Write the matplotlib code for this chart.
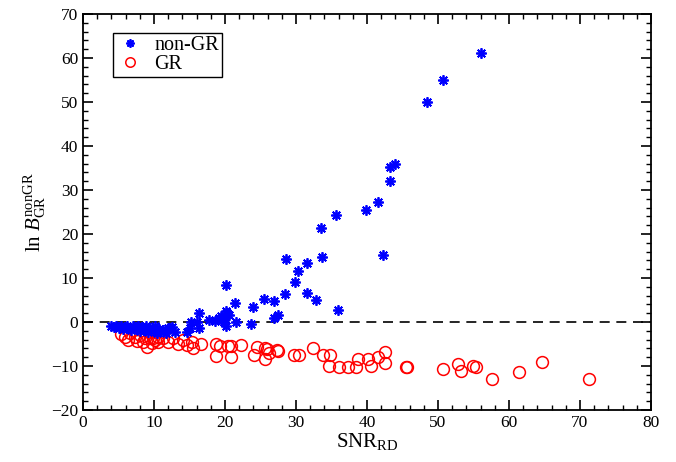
import matplotlib
matplotlib.use("Agg")
import matplotlib.pyplot as plt
from matplotlib.ticker import MultipleLocator

plt.rcParams['font.family'] = ['Liberation Serif', 'DejaVu Serif']
plt.rcParams['mathtext.fontset'] = 'custom'
plt.rcParams['mathtext.rm'] = 'Liberation Serif'
plt.rcParams['mathtext.it'] = 'Liberation Serif:italic'

# non-GR injections: ringdown SNR and log Bayes factor
nongr_snr = [3.9, 4.3, 4.6, 5.0, 5.3, 5.6, 5.9, 6.2, 6.5, 6.8, 7.1, 7.4, 7.7, 8.0,
             8.3, 8.6, 8.9, 9.2, 9.5, 9.8, 10.1, 10.4, 10.7, 11.0, 11.3, 11.7, 12.0,
             12.3, 12.6, 13.0, 14.7, 15.0, 15.2, 16.0, 16.4, 16.4, 17.8, 18.6, 19.2,
             19.4, 19.4, 19.7, 19.8, 20.0, 20.1, 20.2, 20.3, 20.5, 20.2, 21.4, 21.5,
             23.7, 23.9, 25.5, 26.9, 26.9, 27.5, 28.5, 28.6, 29.9, 30.3, 31.6, 31.6,
             32.8, 33.7, 33.5, 35.9, 35.6, 39.9, 41.6, 42.2, 43.2, 43.2, 43.9, 48.5,
             50.7, 56.1]
nongr_lnb = [-0.9, -1.1, -0.8, -1.3, -0.9, -1.6, -1.1, -0.8, -1.4, -1.9, -1.0, -1.5,
             -0.8, -2.1, -1.2, -1.7, -0.9, -2.3, -1.3, -1.8, -1.0, -2.4, -1.5, -2.0,
             -1.8, -2.6, -1.3, -1.4, -1.1, -2.2, -2.3, -1.4, -0.1, 0.1, -1.4, 2.0,
             0.45, 0.3, 0.8, 1.4, 0.45, 0.8, 0.1, 1.2, 2.5, -0.9, 2.1, 1.6, 8.3, 4.3,
             0.1, -0.4, 3.3, 5.2, 4.8, 0.8, 1.7, 6.4, 14.4, 9.2, 11.5, 13.3, 6.7, 5.0,
             14.7, 21.3, 2.7, 24.4, 25.5, 27.3, 15.3, 32.0, 35.2, 35.9, 49.9, 55.1,
             61.1]

# GR injections
gr_snr = [5.4, 5.9, 6.6, 6.4, 7.3, 7.6, 8.0, 8.4, 8.7, 9.0, 9.4, 9.7, 10.1, 10.6,
          9.9, 10.6, 11.3, 12.0, 12.7, 13.4, 14.1, 14.6, 15.4, 15.5, 16.6, 18.8,
          18.7, 19.3, 20.4, 20.9, 20.8, 22.3, 24.1, 24.5, 25.6, 25.9, 25.6, 26.2,
          27.3, 27.4, 29.7, 30.4, 32.4, 33.8, 34.8, 34.6, 36.0, 37.3, 38.5, 38.7,
          40.2, 40.6, 41.6, 42.6, 42.5, 45.5, 45.7, 50.7, 52.8, 53.3, 55.0, 55.4,
          57.6, 61.4, 64.6, 71.3]
gr_lnb = [-2.8, -3.3, -2.6, -4.1, -3.3, -4.3, -2.9, -4.5, -3.6, -5.6, -3.7, -4.8,
          -4.1, -3.3, -3.7, -4.5, -3.7, -4.5, -3.7, -5.1, -4.1, -5.2, -4.5, -6.0,
          -5.1, -5.1, -7.7, -5.5, -5.5, -5.5, -8.0, -5.2, -7.5, -5.6, -5.8, -6.2,
          -8.3, -7.0, -6.4, -6.7, -7.6, -7.6, -5.8, -7.4, -7.6, -9.9, -10.2, -10.2,
          -10.2, -8.5, -8.3, -9.9, -8.0, -6.8, -9.4, -10.3, -10.3, -10.6, -9.5,
          -11.2, -9.9, -10.2, -13.0, -11.4, -9.1, -12.9]

x_ticks = [0, 10, 20, 30, 40, 50, 60, 70, 80]
y_ticks = [-20, -10, 0, 10, 20, 30, 40, 50, 60, 70]

fig = plt.figure(figsize=(6.76, 4.62), dpi=100)
ax = fig.add_axes([0.1228, 0.1126, 0.8402, 0.8571])

ax.axhline(0, color='black', lw=1.2, ls=(0, (6, 4)), zorder=1)
ax.plot(nongr_snr, nongr_lnb, ls='none', marker=(8, 2, 0), ms=7.5, mew=1.3,
        color='#0000ff', label='non-GR', zorder=3)
ax.plot(gr_snr, gr_lnb, ls='none', marker='o', ms=8.5, mew=1.1,
        mfc='none', mec='#ff0000', label='GR', zorder=2)

ax.set_xlim(0, 80)
ax.set_ylim(-20, 70)
ax.set_xticks(x_ticks)
ax.set_yticks(y_ticks)
ax.xaxis.set_minor_locator(MultipleLocator(2))
ax.yaxis.set_minor_locator(MultipleLocator(2))
ax.tick_params(which='both', direction='in', top=True, right=True, labelsize=12.5)
ax.tick_params(which='major', length=7, width=1.2)
ax.tick_params(which='minor', length=3.5, width=1.0)
for s in ax.spines.values():
    s.set_linewidth(1.3)

ax.set_xlabel(r'SNR$_{\rm RD}$', fontsize=15, labelpad=0)
ax.set_ylabel(r'ln $B_{\rm GR}^{\rm nonGR}$', fontsize=15, labelpad=2)

leg = ax.legend(loc='upper left', bbox_to_anchor=(0.053, 0.952), borderaxespad=0,
                fontsize=14.5, frameon=True, fancybox=False, edgecolor='black',
                framealpha=1, handletextpad=0.5, borderpad=0.15, labelspacing=0.0,
                handlelength=1.4, markerscale=0.8)
leg.get_frame().set_linewidth(1.0)

fig.savefig('out.png', dpi=100)
